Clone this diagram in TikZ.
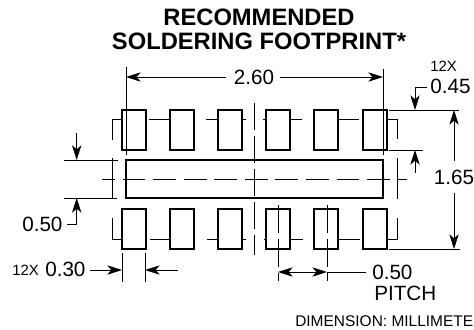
\documentclass[tikz,border=0pt]{standalone}
\usepackage{fontspec}
\setmainfont{Liberation Sans}
\usetikzlibrary{arrows.meta}

\begin{document}
\begin{tikzpicture}[x=0.75pt,y=0.75pt,yscale=-1,xscale=1,
	padshape/.style={line width=1.1pt, fill=white},
	thinline/.style={line width=0.6pt},
	centerline/.style={line width=0.6pt, dash pattern=on 17pt off 5.9pt},
	midline/.style={line width=0.6pt, dash pattern=on 20.2pt off 4.5pt},
	pitchline/.style={line width=0.6pt, dash pattern=on 21pt off 4.5pt},
	dimarrow/.style={line width=0.6pt, -{Stealth[length=11pt,width=7pt,inset=3pt]}},
	dimboth/.style={line width=0.6pt, {Stealth[length=11pt,width=7pt,inset=3pt]}-{Stealth[length=11pt,width=7pt,inset=3pt]}},
	dimtext/.style={font=\fontsize{15.5}{15.5}\selectfont, inner sep=0pt},
	smalltext/.style={font=\fontsize{11.2}{11.2}\selectfont, inner sep=0pt}]
	\useasboundingbox (0,0) rectangle (474,329);

	%Shape: pad stubs, top row
	\draw [thinline] (112,140) -- (112,119) -- (122,119) ;
	\draw [thinline] (149,119) -- (170,119) ;
	\draw [thinline] (206,119) -- (218,119) ;
	\draw [thinline] (242,119) -- (246,119) ;
	\draw [thinline] (263,119) -- (266,119) ;
	\draw [thinline] (290,119) -- (302,119) ;
	\draw [thinline] (338,119) -- (359,119) ;
	\draw [thinline] (387,119) -- (397,119) -- (397,139) ;
	%Shape: pad stubs, bottom row
	\draw [thinline] (112,218) -- (112,239) -- (122,239) ;
	\draw [thinline] (150,239) -- (170,239) ;
	\draw [thinline] (207,239) -- (218,239) ;
	\draw [thinline] (242,239) -- (246,239) ;
	\draw [thinline] (264,239) -- (266,239) ;
	\draw [thinline] (290,239) -- (303,239) ;
	\draw [thinline] (338,239) -- (360,239) ;
	\draw [thinline] (387,239) -- (397,239) -- (397,218) ;

	%Shape: Rectangle, top row
	\draw [padshape] (122,110) rectangle (146,150) ;
	\draw [padshape] (170,110) rectangle (194,150) ;
	\draw [padshape] (218,110) rectangle (242,150) ;
	\draw [padshape] (266,110) rectangle (290,150) ;
	\draw [padshape] (314,110) rectangle (338,150) ;
	\draw [padshape] (363,110) rectangle (387,150) ;
	%Shape: Rectangle, bottom row
	\draw [padshape] (122,209) rectangle (146,249) ;
	\draw [padshape] (170,209) rectangle (194,249) ;
	\draw [padshape] (218,209) rectangle (242,249) ;
	\draw [padshape] (266,209) rectangle (290,249) ;
	\draw [padshape] (314,209) rectangle (338,249) ;
	\draw [padshape] (363,209) rectangle (387,249) ;
	%Shape: Rectangle, long center pad
	\draw [padshape] (126,160) rectangle (383,198) ;

	%Straight Lines: center lines
	\draw [midline] (254,103) -- (254,255) ;
	\draw [centerline, dash phase=7.3pt] (102,179) -- (407,179) ;
	\draw [thinline] (112,158) -- (112,199) ;
	\draw [thinline] (397,158) -- (397,199) ;
	\draw [pitchline] (278,205) -- (278,281) ;
	\draw [pitchline] (327,205) -- (327,281) ;

	%Straight Lines: extension lines
	\draw [thinline] (126,67) -- (126,155) ;
	\draw [thinline] (383,69) -- (383,155) ;
	\draw [thinline] (389,110) -- (459,110) ;
	\draw [thinline] (389,150) -- (423,150) ;
	\draw [thinline] (389,249) -- (460,249) ;
	\draw [thinline] (64,160) -- (118,160) ;
	\draw [thinline] (64,198) -- (117,198) ;
	\draw [thinline] (122,253) -- (122,282) ;
	\draw [thinline] (145,253) -- (145,282) ;

	% Text Node
	\node (title) [font=\fontsize{17.8}{18.2}\selectfont\bfseries, align=center, inner sep=0pt] at (259,29) {RECOMMENDED\\SOLDERING FOOTPRINT*};
	% Text Node
	\node (overall) [dimtext] at (254,77) {2.60};
	% Text Node
	\node (padqty) [smalltext, anchor=west] at (430,66) {12X};
	% Text Node
	\node (padlen) [dimtext, anchor=west] at (430,86) {0.45};
	% Text Node
	\node (span) [dimtext] at (454,177) {1.65};
	% Text Node
	\node (barwidth) [dimtext, anchor=west] at (22,224) {0.50};
	% Text Node
	\node (widthqty) [smalltext, anchor=west] at (12,270) {12X};
	% Text Node
	\node (padwidth) [dimtext, anchor=west] at (45,269) {0.30};
	% Text Node
	\node (pitchval) [dimtext, anchor=west] at (372,272.5) {0.50};
	% Text Node
	\node (pitchword) [dimtext, anchor=west] at (374,293.5) {PITCH};
	% Text Node
	\node (units) [font=\fontsize{11.6}{11.6}\selectfont, inner sep=0pt, anchor=west] at (295,321) {DIMENSION: MILLIMETE};

	%Straight Lines: dimension arrows
	\draw [dimarrow] (overall.west) ++(-8,0) -- (126,77) ;
	\draw [dimarrow] (overall.east) ++(6,0) -- (383,77) ;
	\draw [dimarrow] (427,87) -- (415,87) -- (415,110) ;
	\draw [dimarrow] (415,173) -- (415,150) ;
	\draw [dimarrow] (454,161) -- (454,110) ;
	\draw [dimarrow] (454,193) -- (454,249) ;
	\draw [dimarrow] (76.7,133) -- (76.7,160) ;
	\draw [dimarrow] (67,224) -- (76.7,224) -- (76.7,198) ;
	\draw [dimarrow] (90,270) -- (122,270) ;
	\draw [dimarrow] (178,270) -- (145,270) ;
	\draw [dimboth] (278,272) -- (327,272) ;
	\draw [thinline] (327,272) -- (366,272) ;
\end{tikzpicture}
\end{document}
